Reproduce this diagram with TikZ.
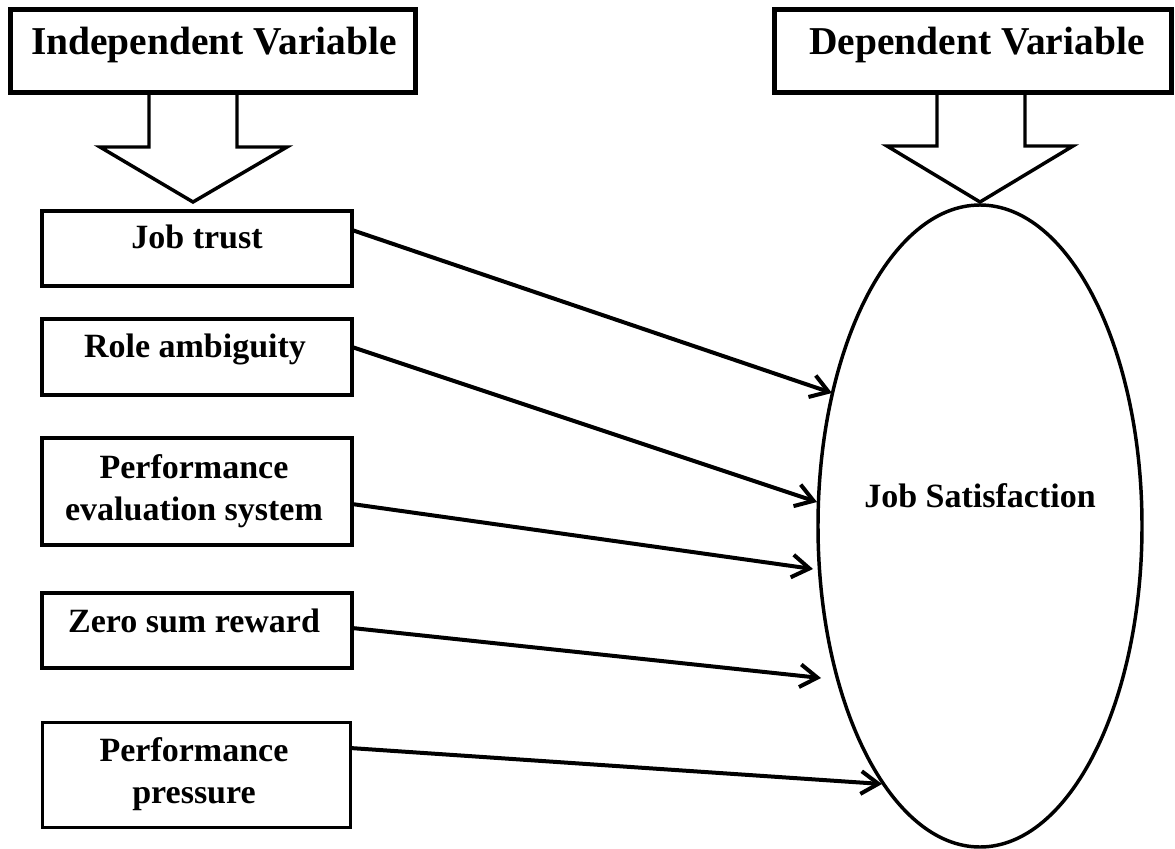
\documentclass[tikz,border=0pt]{standalone}
\usepackage{fontspec}
\setmainfont{Liberation Serif}
\usetikzlibrary{shapes.geometric,arrows.meta,calc}

\tikzset{
  headbox/.style={draw, line width=3.75pt, minimum height=62.25pt, inner sep=0pt, outer sep=0pt},
  varbox/.style={draw, line width=3pt, minimum width=232.5pt, inner sep=0pt, outer sep=0pt},
  headtext/.style={inner sep=0pt, anchor=base, font=\fontsize{29.6pt}{35pt}\selectfont\bfseries},
  bodytext/.style={inner sep=0pt, anchor=base, align=center, font=\fontsize{25.5pt}{31.5pt}\selectfont\bfseries},
  bigarrow/.style={line width=2.6pt, line join=miter},
  link/.style={line width=3pt, -{Straight Barb[length=13pt,width=17pt]}}
}

\begin{document}
\begin{tikzpicture}[x=0.75pt,y=0.75pt,yscale=-1,xscale=1]
\useasboundingbox (0,0) rectangle (1175,849);

%Shape: Rectangle
\node [headbox, minimum width=303.75pt] (indep) at (212.5,51.5) {};
%Shape: Rectangle
\node [headbox, minimum width=297.75pt] (dep) at (972.5,51.5) {};

% Text Node
\draw (214,55) node [headtext] (indeplbl) {Independent Variable};
% Text Node
\draw (977,55) node [headtext] (deplbl) {Dependent Variable};

%Shape: Down Arrow
\draw [bigarrow] (149,93) -- (149,147) -- (100,147) -- (193,202) -- (287,147) -- (237,147) -- (237,93);
%Shape: Down Arrow
\draw [bigarrow] (937,93) -- (937,146) -- (887,146) -- (980,202) -- (1073,146) -- (1025,146) -- (1025,93);

%Shape: Rectangle
\node [varbox, minimum height=56.25pt] (jt) at (197,248.5) {};
\node [varbox, minimum height=57pt] (ra) at (197,357) {};
\node [varbox, minimum height=80.25pt] (pe) at (197,491.5) {};
\node [varbox, minimum height=56.25pt] (zs) at (197,630.5) {};
\node [varbox, line width=2.25pt, minimum width=231pt, minimum height=78.75pt] (pp) at (196,774.5) {};

% Text Node
\draw (197,248) node [bodytext] (jtlbl) {Job trust};
% Text Node
\draw (195,357) node [bodytext] (ralbl) {Role ambiguity};
% Text Node (base = last line)
\draw (194,520) node [bodytext] (pelbl) {Performance\\evaluation system};
% Text Node
\draw (194,632) node [bodytext] (zslbl) {Zero sum reward};
% Text Node (base = last line)
\draw (194,803) node [bodytext] (pplbl) {Performance\\pressure};

%Shape: Ellipse
\node [ellipse, draw, line width=2.6pt, minimum width=243pt, minimum height=481.5pt, inner sep=0pt] (sat) at (980,526) {};
% Text Node
\draw (980,507) node [bodytext] (satlbl) {Job Satisfaction};

% arrow ends
\coordinate (e1) at (832,393);
\coordinate (e2) at (817,502);
\coordinate (e3) at (813,569);
\coordinate (e4) at (821,678);
\coordinate (e5) at (882,784);

\draw [link] ($(jt.east)+(0,-18.5)$) -- (e1);
\draw [link] ($(ra.east)+(0,-10)$) -- (e2);
\draw [link] ($(pe.east)+(0,12.5)$) -- (e3);
\draw [link] ($(zs.east)+(0,-2.5)$) -- (e4);
\draw [link] ($(pp.east)+(0,-26.5)$) -- (e5);

\end{tikzpicture}
\end{document}
